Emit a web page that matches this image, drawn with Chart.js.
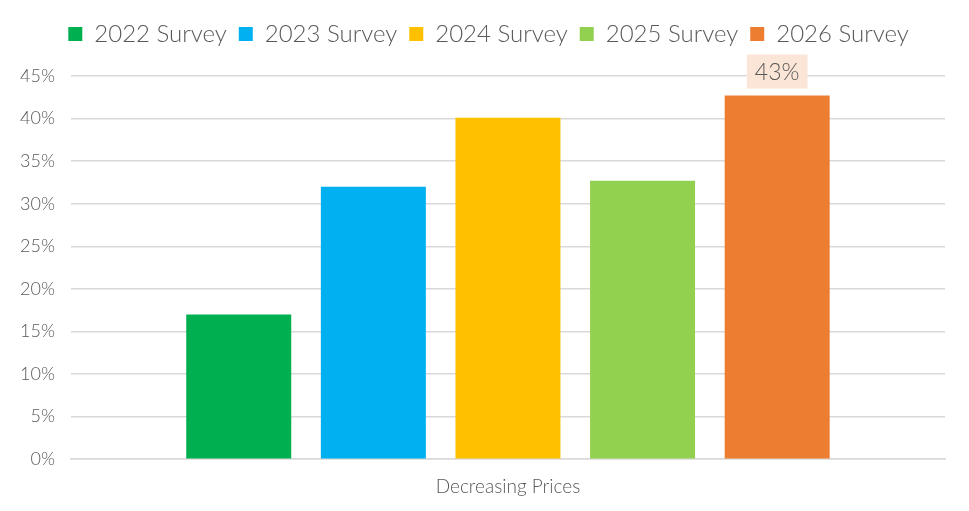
<!DOCTYPE html>
<html>
<head>
<meta charset="utf-8">
<script src="https://cdn.jsdelivr.net/npm/chart.js@4.4.1/dist/chart.umd.min.js"></script>
<style>
    html, body { margin: 0; padding: 0; background: #fff; }
    #wrap { width: 969px; height: 511px; }
</style>
</head>
<body>
<div id="wrap"><canvas id="chartRef"></canvas></div>
<script>
const categories = ["Decreasing Prices"];
const surveys = ["2022 Survey", "2023 Survey", "2024 Survey", "2025 Survey", "2026 Survey"];
const values = [17.0, 32.0, 40.1, 32.7, 42.7];
const colors = ["#00B050", "#00B0F0", "#FFC000", "#92D050", "#ED7D31"];
const yTicks = [0, 5, 10, 15, 20, 25, 30, 35, 40, 45];

const fontFamily = "Lato, 'Noto Sans', sans-serif";
const textColor = "#595959";

// label above the last bar only, with a peach box behind it
const topLabel = {
    id: "topLabel",
    afterDatasetsDraw(chart) {
        const i = surveys.length - 1;
        const bar = chart.getDatasetMeta(i).data[0];
        const ctx = chart.ctx;
        const text = Math.round(values[i]) + "%";
        ctx.save();
        ctx.font = "300 23px " + fontFamily;
        const w = ctx.measureText(text).width + 16;
        const h = 34;
        const cy = bar.y - 24;
        ctx.fillStyle = "#FBE5D6";
        ctx.fillRect(bar.x - w / 2, cy - h / 2, w, h);
        ctx.fillStyle = textColor;
        ctx.textAlign = "center";
        ctx.textBaseline = "middle";
        ctx.fillText(text, bar.x, cy + 1);
        ctx.restore();
    },
};

// extra room between legend and plot, legend nudged right a bit
const legendGap = {
    id: "legendGap",
    beforeInit(chart) {
        const legend = chart.legend;
        const fit = legend.fit;
        legend.fit = function () {
            fit.bind(legend)();
            this.height += 20;
        };
        const draw = legend.draw;
        legend.draw = function () {
            chart.ctx.save();
            chart.ctx.translate(14, 0);
            draw.bind(legend)();
            chart.ctx.restore();
        };
    },
};

document.addEventListener("DOMContentLoaded", () => {
    const chartRef = document.getElementById("chartRef");
    const ctx = chartRef.getContext("2d");

    const datasets = surveys.map((name, i) => ({
        label: name,
        data: [values[i]],
        backgroundColor: colors[i],
        borderWidth: 0,
        categoryPercentage: 0.77,
        barPercentage: 0.78,
    }));

    new Chart(ctx, {
        type: "bar",
        data: { labels: categories, datasets: datasets },
        options: {
            responsive: true,
            maintainAspectRatio: false,
            animation: false,
            layout: { padding: { left: 4, right: 24, top: 10, bottom: 5 } },
            plugins: {
                legend: {
                    position: "top",
                    labels: {
                        boxWidth: 14,
                        boxHeight: 14,
                        padding: 12,
                        color: textColor,
                        font: { family: fontFamily, size: 24, weight: "300" },
                    },
                },
                tooltip: { enabled: false },
            },
            scales: {
                y: {
                    min: 0,
                    max: 45,
                    afterBuildTicks: (axis) => {
                        axis.ticks = yTicks.map((v) => ({ value: v }));
                    },
                    grid: { color: "#D9D9D9", lineWidth: 1.5, drawTicks: false },
                    border: { display: false },
                    ticks: {
                        padding: 16,
                        color: textColor,
                        font: { family: fontFamily, size: 18, weight: "300" },
                        callback: (v) => v + "%",
                    },
                },
                x: {
                    grid: { display: false },
                    border: { color: "#D9D9D9", width: 1.5 },
                    ticks: {
                        padding: 8,
                        color: textColor,
                        font: { family: fontFamily, size: 19, weight: "300" },
                    },
                },
            },
        },
        plugins: [topLabel, legendGap],
    });
});
</script>
</body>
</html>
